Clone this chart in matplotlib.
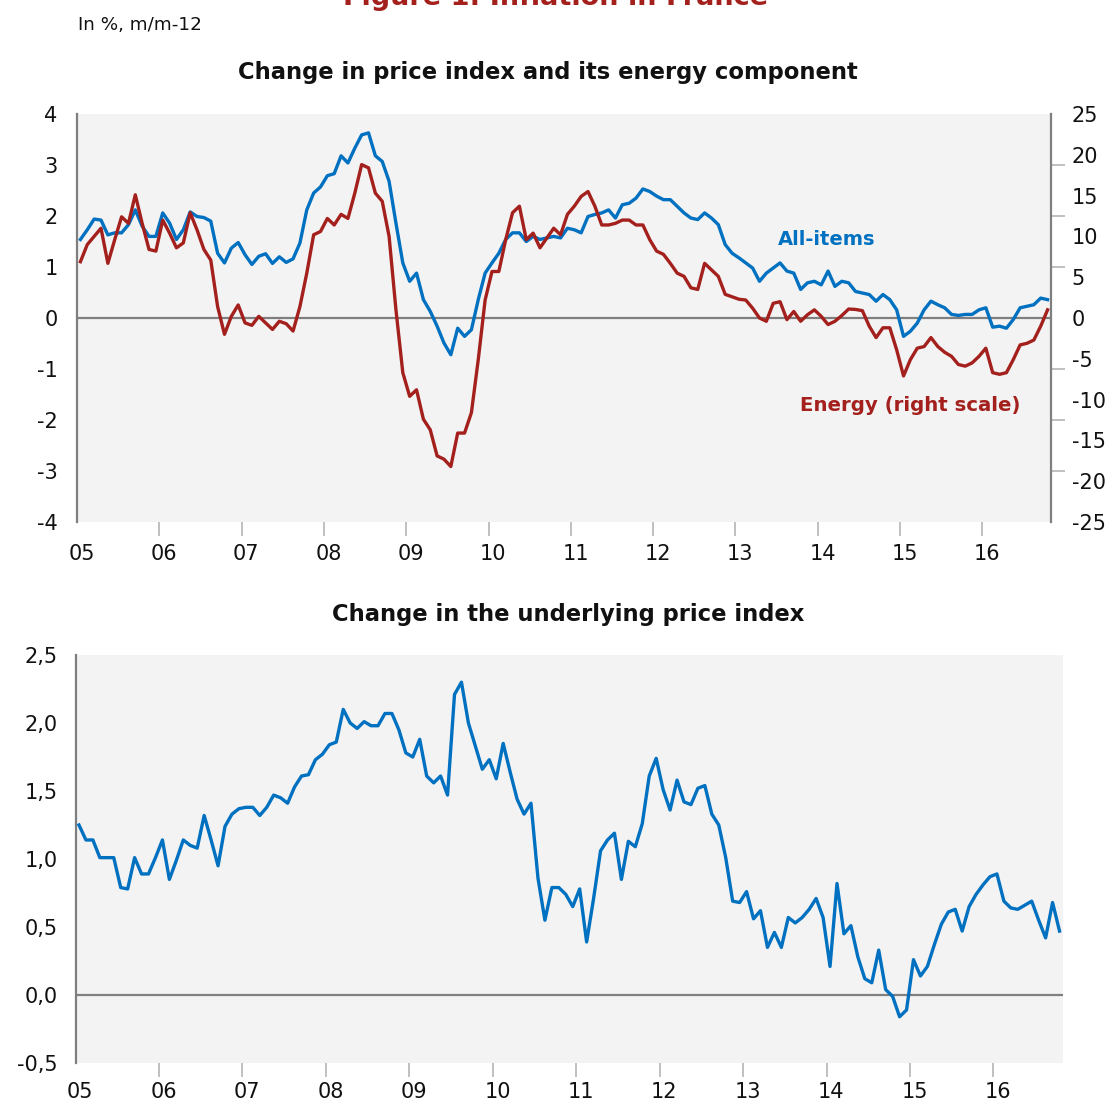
import matplotlib
matplotlib.use('Agg')
import matplotlib.pyplot as plt
import numpy as np
from matplotlib.ticker import FuncFormatter

plt.rcParams['font.family'] = ['DejaVu Sans']
plt.rcParams['axes.unicode_minus'] = False

# monthly y/y change in %, Jan 2005 -> Oct 2016
all_items = [
    1.54, 1.73, 1.94, 1.92, 1.63, 1.67, 1.67, 1.83, 2.12, 1.80, 1.60, 1.60,
    2.06, 1.86, 1.54, 1.73, 2.08, 1.99, 1.97, 1.90, 1.27, 1.08, 1.37, 1.48,
    1.24, 1.05, 1.21, 1.26, 1.07, 1.20, 1.09, 1.16, 1.47, 2.12, 2.45, 2.57,
    2.79, 2.83, 3.18, 3.04, 3.33, 3.59, 3.63, 3.18, 3.07, 2.68, 1.86, 1.08,
    0.72, 0.88, 0.36, 0.13, -0.16, -0.49, -0.72, -0.20, -0.36, -0.23, 0.36, 0.88,
    1.08, 1.27, 1.54, 1.67, 1.67, 1.50, 1.60, 1.54, 1.57, 1.60, 1.57, 1.76,
    1.73, 1.67, 1.99, 2.03, 2.06, 2.12, 1.96, 2.22, 2.25, 2.35, 2.53, 2.48,
    2.39, 2.32, 2.32, 2.19, 2.06, 1.96, 1.93, 2.06, 1.96, 1.83, 1.44, 1.27,
    1.18, 1.08, 0.98, 0.72, 0.88, 0.98, 1.08, 0.92, 0.88, 0.56, 0.69, 0.72,
    0.65, 0.92, 0.62, 0.72, 0.69, 0.52, 0.49, 0.46, 0.33, 0.46, 0.36, 0.16,
    -0.36, -0.26, -0.10, 0.16, 0.33, 0.26, 0.20, 0.07, 0.05, 0.07, 0.07, 0.16,
    0.20, -0.18, -0.16, -0.20, -0.03, 0.20, 0.23, 0.26, 0.39, 0.36,
]

energy = [
    6.9, 9.0, 10.0, 11.0, 6.7, 9.6, 12.4, 11.6, 15.1, 11.6, 8.4, 8.2,
    12.0, 10.4, 8.6, 9.2, 12.9, 10.8, 8.4, 7.1, 1.4, -2.0, 0.2, 1.6,
    -0.6, -0.9, 0.2, -0.6, -1.4, -0.4, -0.7, -1.6, 1.4, 5.5, 10.2, 10.6,
    12.2, 11.4, 12.7, 12.2, 15.3, 18.8, 18.4, 15.3, 14.3, 10.0, 1.0, -6.7,
    -9.6, -8.8, -12.4, -13.7, -16.9, -17.3, -18.2, -14.1, -14.1, -11.6, -5.1, 2.2,
    5.7, 5.7, 9.6, 12.9, 13.7, 9.6, 10.4, 8.6, 9.8, 11.0, 10.2, 12.7,
    13.7, 14.9, 15.5, 13.7, 11.4, 11.4, 11.6, 12.0, 12.0, 11.4, 11.4, 9.6,
    8.2, 7.8, 6.7, 5.5, 5.1, 3.7, 3.5, 6.7, 5.9, 5.1, 2.9, 2.6,
    2.3, 2.2, 1.2, 0.0, -0.4, 1.8, 2.0, -0.2, 0.8, -0.4, 0.4, 1.0,
    0.2, -0.8, -0.4, 0.3, 1.1, 1.05, 0.9, -1.0, -2.4, -1.2, -1.2, -3.9,
    -7.1, -5.1, -3.7, -3.5, -2.4, -3.5, -4.2, -4.7, -5.7, -5.9, -5.5, -4.7,
    -3.7, -6.7, -6.9, -6.7, -5.1, -3.3, -3.1, -2.7, -1.0, 1.0,
]

underlying = [
    1.25, 1.14, 1.14, 1.01, 1.01, 1.01, 0.79, 0.78, 1.01, 0.89, 0.89, 1.01,
    1.14, 0.85, 0.99, 1.14, 1.10, 1.08, 1.32, 1.14, 0.95, 1.24, 1.33, 1.37,
    1.38, 1.38, 1.32, 1.38, 1.47, 1.45, 1.41, 1.53, 1.61, 1.62, 1.73, 1.77,
    1.84, 1.86, 2.10, 2.00, 1.96, 2.01, 1.98, 1.98, 2.07, 2.07, 1.95, 1.78,
    1.75, 1.88, 1.61, 1.56, 1.61, 1.47, 2.21, 2.30, 2.00, 1.83, 1.66, 1.73,
    1.59, 1.85, 1.64, 1.44, 1.33, 1.41, 0.86, 0.55, 0.79, 0.79, 0.74, 0.65,
    0.78, 0.39, 0.71, 1.06, 1.14, 1.19, 0.85, 1.13, 1.09, 1.26, 1.61, 1.74,
    1.51, 1.36, 1.58, 1.42, 1.40, 1.52, 1.54, 1.33, 1.25, 1.01, 0.69, 0.68,
    0.76, 0.56, 0.62, 0.35, 0.46, 0.35, 0.57, 0.53, 0.57, 0.63, 0.71, 0.57,
    0.21, 0.82, 0.45, 0.51, 0.28, 0.12, 0.09, 0.33, 0.04, -0.01, -0.16, -0.11,
    0.26, 0.14, 0.21, 0.37, 0.52, 0.61, 0.63, 0.47, 0.65, 0.74, 0.81, 0.87,
    0.89, 0.69, 0.64, 0.63, 0.66, 0.69, 0.55, 0.42, 0.68, 0.47,
]

year_labels = ['05', '06', '07', '08', '09', '10', '11', '12', '13', '14', '15', '16']

BLUE = '#0070c0'
RED = '#a3201d'
TEXT = '#111111'
BG = '#f3f3f3'
GRID = '#e0e0e0'
AXIS = '#7f7f7f'
TICK = '#b5b5b5'
FS = 15


def style_x_axis(ax, n_months, pad):
    ax.set_xlim(0, n_months / 12)
    # labels sit on the January point of each year, tick marks on year boundaries
    ax.set_xticks([(12 * k + 0.5) / 12 + 0.015 for k in range(len(year_labels))])
    ax.set_xticklabels(year_labels)
    ax.set_xticks(range(1, len(year_labels)), minor=True)
    ax.tick_params(axis='x', which='major', length=0, pad=pad, labelsize=FS, labelcolor=TEXT)
    ax.tick_params(axis='x', which='minor', length=10, width=1.2, color=TICK, direction='out')


def draw_top(fig):
    ax = fig.add_axes([77 / 1113, 1 - 522 / 1102, 974 / 1113, 408 / 1102])
    ax.set_facecolor(BG)
    months = (np.arange(len(all_items)) + 0.5) / 12

    ax.axhline(0, color=AXIS, lw=1.6, zorder=2)
    ax.plot(months, all_items, color=BLUE, lw=2.4, zorder=3)
    ax.set_ylim(-4, 4)
    ax.set_yticks(range(-4, 5))
    ax.set_yticks([v for v in range(-3, 4)], minor=True)
    ax.yaxis.grid(True, which='minor', color=GRID, lw=1.2)
    ax.set_axisbelow(True)
    ax.tick_params(axis='y', which='major', length=0, pad=14, labelsize=FS, labelcolor=TEXT)
    ax.tick_params(axis='y', which='minor', length=10, width=1.2, color=TICK)
    style_x_axis(ax, len(all_items), 16)

    for side in ['top', 'right', 'bottom']:
        ax.spines[side].set_visible(False)
    ax.spines['left'].set_color(AXIS)
    ax.spines['left'].set_linewidth(1.6)

    ax2 = ax.twinx()
    ax2.plot(months, energy, color=RED, lw=2.4, zorder=3)
    ax2.set_ylim(-25, 25)
    ax2.set_yticks(range(-25, 30, 5))
    ax2.set_yticks([v * 25 / 4 for v in range(-3, 4)], minor=True)
    ax2.tick_params(axis='y', which='major', length=0, pad=15, labelsize=FS, labelcolor=TEXT)
    ax2.tick_params(axis='y', which='minor', length=10, width=1.2, color=TICK)
    for side in ['top', 'left', 'bottom']:
        ax2.spines[side].set_visible(False)
    ax2.spines['right'].set_color(AXIS)
    ax2.spines['right'].set_linewidth(1.6)

    ax.text(8.51, 1.54, 'All-items', color=BLUE, fontsize=14, fontweight='bold',
            ha='left', va='center')
    ax.text(8.78, -1.72, 'Energy (right scale)', color=RED, fontsize=14.2, fontweight='bold',
            ha='left', va='center')


def draw_bottom(fig):
    ax = fig.add_axes([75.5 / 1113, 1 - 1063 / 1102, 987.5 / 1113, 408 / 1102])
    ax.set_facecolor(BG)
    months = (np.arange(len(underlying)) + 0.5) / 12

    ax.axhline(0, color=AXIS, lw=1.6, zorder=2)
    ax.plot(months, underlying, color=BLUE, lw=2.4, zorder=3)
    ax.set_ylim(-0.5, 2.5)
    ax.set_yticks(np.arange(-0.5, 2.51, 0.5))
    ax.set_yticks([0.0, 0.5, 1.0, 1.5, 2.0], minor=True)
    ax.yaxis.set_major_formatter(FuncFormatter(lambda v, p: '{:.1f}'.format(v).replace('.', ',')))
    ax.yaxis.grid(True, which='minor', color=GRID, lw=1.2)
    ax.set_axisbelow(True)
    ax.tick_params(axis='y', which='major', length=0, pad=13, labelsize=FS, labelcolor=TEXT)
    ax.tick_params(axis='y', which='minor', length=8, width=1.2, color=TICK)
    style_x_axis(ax, len(underlying), 13.5)

    for side in ['top', 'right', 'bottom']:
        ax.spines[side].set_visible(False)
    ax.spines['left'].set_color(AXIS)
    ax.spines['left'].set_linewidth(1.6)


fig = plt.figure(figsize=(11.13, 11.02), dpi=100)

fig.text(556 / 1113, 1 - 5 / 1102, 'Figure 1: Inflation in France', color=RED,
         fontsize=19.5, fontweight='bold', ha='center', va='baseline')
fig.text(78 / 1113, 1 - 25 / 1102, 'In %, m/m-12', color=TEXT, fontsize=13.2,
         ha='left', va='center')
fig.text(547.5 / 1113, 1 - 73 / 1102, 'Change in price index and its energy component',
         color=TEXT, fontsize=16.3, fontweight='bold', ha='center', va='center')
fig.text(568 / 1113, 1 - 615 / 1102, 'Change in the underlying price index',
         color=TEXT, fontsize=16.3, fontweight='bold', ha='center', va='center')

draw_top(fig)
draw_bottom(fig)

fig.savefig('out.png', dpi=100)
